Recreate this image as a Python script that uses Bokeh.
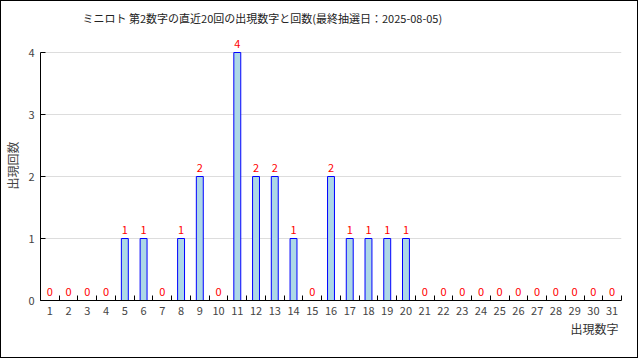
from bokeh.plotting import figure
from bokeh.models import FixedTicker, Range1d, ColumnDataSource, Title
from bokeh.embed import file_html
from bokeh.resources import INLINE
from bokeh.core.properties import value

numbers = list(range(1, 32))
counts = [0, 0, 0, 0, 1, 1, 0, 1, 2, 0, 4, 2, 2, 1, 0, 2, 1, 1, 1, 1,
          0, 0, 0, 0, 0, 0, 0, 0, 0, 0, 0]
y_ticks = [0, 1, 2, 3, 4]
title_text = "ミニロト 第2数字の直近20回の出現数字と回数(最終抽選日：2025-08-05)"
x_label = "出現数字"
y_label = "出現回数"

FONT = "Noto Sans CJK JP"

p = figure(width=638, height=358, output_backend="svg", toolbar_location=None,
           x_range=Range1d(0.5, 31.5), y_range=Range1d(0, 4.355),
           min_border_left=39, min_border_right=18, min_border_top=29, min_border_bottom=59)
p.styles = {"border": "1px solid black"}
p.outline_line_color = None

p.add_layout(Title(text=title_text, align="left", offset=42, standoff=6,
                   vertical_align="top",
                   text_font=FONT, text_font_size="11px", text_font_style="normal",
                   text_color="#222222"), "above")

bar_x = [n for n, c in zip(numbers, counts) if c > 0]
bar_top = [c for c in counts if c > 0]
p.vbar(x=bar_x, top=bar_top, width=0.37, fill_color="#add8e6", line_color="blue", line_width=1)

src = ColumnDataSource(dict(x=numbers, y=counts, t=[str(c) for c in counts]))
p.text(x="x", y="y", text="t", source=src, y_offset=-5, text_align="center",
       text_baseline="bottom", text_color="red", text_font=value(FONT), text_font_size="11px")

p.xaxis.ticker = FixedTicker(ticks=numbers, minor_ticks=[n + 0.5 for n in range(0, 32)])
p.xaxis.major_tick_in = 0
p.xaxis.major_tick_out = 0
p.xaxis.minor_tick_in = 5
p.xaxis.minor_tick_out = 0
p.xaxis.major_label_text_font = FONT
p.xaxis.major_label_text_font_size = "11px"
p.xaxis.major_label_standoff = 6
p.xaxis.axis_line_color = "black"

p.add_layout(Title(text=x_label, align="right", offset=3, standoff=0,
                   text_font=FONT, text_font_size="12px", text_font_style="normal",
                   text_color="#333333"), "below")

p.yaxis.ticker = FixedTicker(ticks=y_ticks, minor_ticks=[])
p.yaxis.bounds = (0, 4)
p.yaxis.major_tick_in = 5
p.yaxis.major_tick_out = 0
p.yaxis.major_label_text_font = FONT
p.yaxis.major_label_text_font_size = "11px"
p.yaxis.major_label_standoff = 6
p.yaxis.axis_label = y_label
p.yaxis.axis_label_text_font = FONT
p.yaxis.axis_label_text_font_size = "12px"
p.yaxis.axis_label_text_font_style = "normal"
p.yaxis.axis_label_standoff = 4

p.xgrid.grid_line_color = None
p.ygrid.grid_line_color = "#dddddd"

open("out.html", "w").write(file_html(p, INLINE))
